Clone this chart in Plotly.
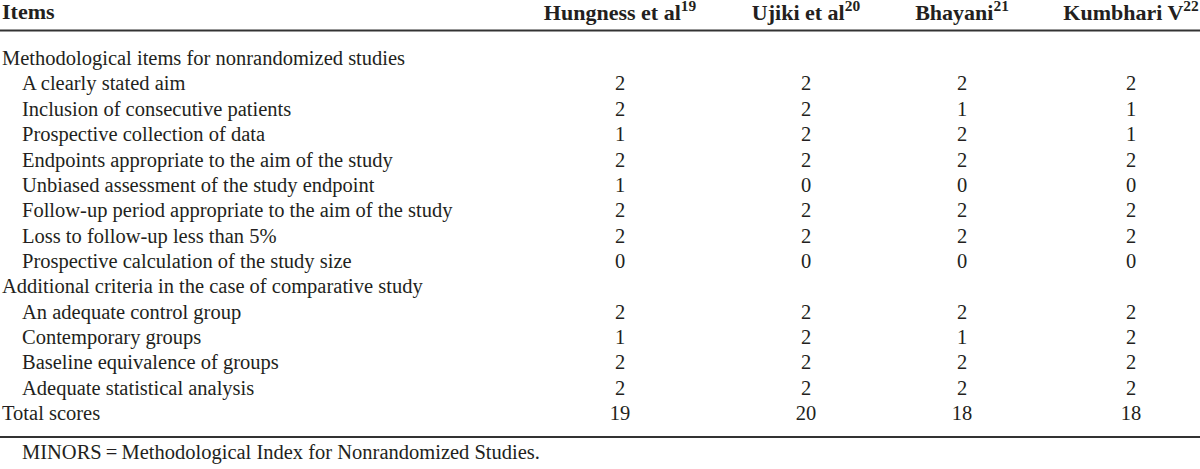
import plotly.graph_objects as go

# ---- data ----
item_labels = [
    "Methodological items for nonrandomized studies",
    "A clearly stated aim",
    "Inclusion of consecutive patients",
    "Prospective collection of data",
    "Endpoints appropriate to the aim of the study",
    "Unbiased assessment of the study endpoint",
    "Follow-up period appropriate to the aim of the study",
    "Loss to follow-up less than 5%",
    "Prospective calculation of the study size",
    "Additional criteria in the case of comparative study",
    "An adequate control group",
    "Contemporary groups",
    "Baseline equivalence of groups",
    "Adequate statistical analysis",
    "Total scores",
]
item_levels = [0, 1, 1, 1, 1, 1, 1, 1, 1, 0, 1, 1, 1, 1, 0]

study_headers = ["Hungness et al<sup>19</sup>", "Ujiki et al<sup>20</sup>",
                 "Bhayani<sup>21</sup>", "Kumbhari V<sup>22</sup>"]
hungness = [None, 2, 2, 1, 2, 1, 2, 2, 0, None, 2, 1, 2, 2, 19]
ujiki    = [None, 2, 2, 2, 2, 0, 2, 2, 0, None, 2, 2, 2, 2, 20]
bhayani  = [None, 2, 1, 2, 2, 0, 2, 2, 0, None, 2, 1, 2, 2, 18]
kumbhari = [None, 2, 1, 1, 2, 0, 2, 2, 0, None, 2, 2, 2, 2, 18]
study_scores = [hungness, ujiki, bhayani, kumbhari]

items_header = "Items"
footnote = "MINORS\u2009=\u2009Methodological Index for Nonrandomized Studies."

# ---- layout constants ----
W, H = 1200, 469
row0_px, row_step = 60.0, 25.36
col_centers = [620, 806, 962, 1131]
indent_x = [2, 22]
header_px, top_line_px, bottom_line_px, foot_px = 14.5, 30.5, 437, 454

def px_to_row(p):
    return (p - row0_px) / row_step

FONT = "Liberation Serif, Times New Roman, serif"
INK = "#231f20"
FS = 20.5
FS_HEAD = 22

rows = list(range(len(item_labels)))
fig = go.Figure()

# item labels
for lvl in (0, 1):
    fig.add_trace(go.Scatter(
        x=[indent_x[lvl] for r in rows if item_levels[r] == lvl],
        y=[r for r in rows if item_levels[r] == lvl],
        text=[item_labels[r] for r in rows if item_levels[r] == lvl],
        mode="text", textposition="middle right",
        textfont=dict(family=FONT, size=FS, color=INK),
        hoverinfo="skip", showlegend=False, cliponaxis=False))

# score columns
for ci, scores in enumerate(study_scores):
    fig.add_trace(go.Scatter(
        x=[col_centers[ci] for r in rows if scores[r] is not None],
        y=[r for r in rows if scores[r] is not None],
        text=[str(scores[r]) for r in rows if scores[r] is not None],
        mode="text", textposition="middle center",
        textfont=dict(family=FONT, size=FS, color=INK),
        hoverinfo="skip", showlegend=False, cliponaxis=False))

# header row
fig.add_trace(go.Scatter(
    x=[indent_x[0]], y=[px_to_row(header_px - 1.5)], text=["<b>" + items_header + "</b>"],
    mode="text", textposition="middle right",
    textfont=dict(family=FONT, size=FS_HEAD, color=INK),
    hoverinfo="skip", showlegend=False, cliponaxis=False))
fig.add_trace(go.Scatter(
    x=col_centers, y=[px_to_row(header_px)] * len(col_centers),
    text=["<b>" + h + "</b>" for h in study_headers],
    mode="text", textposition="middle center",
    textfont=dict(family=FONT, size=FS_HEAD, color=INK),
    hoverinfo="skip", showlegend=False, cliponaxis=False))

# footnote
fig.add_trace(go.Scatter(
    x=[indent_x[1]], y=[px_to_row(foot_px)], text=[footnote],
    mode="text", textposition="middle right",
    textfont=dict(family=FONT, size=FS, color=INK),
    hoverinfo="skip", showlegend=False, cliponaxis=False))

# rules
for p in (top_line_px, bottom_line_px):
    fig.add_shape(type="line", xref="x", yref="y", x0=0, x1=W,
                  y0=px_to_row(p), y1=px_to_row(p),
                  line=dict(color="#333333", width=2))

fig.update_layout(
    width=W, height=H, margin=dict(l=0, r=0, t=0, b=0),
    paper_bgcolor="white", plot_bgcolor="white",
    xaxis=dict(range=[0, W], visible=False, fixedrange=True),
    yaxis=dict(range=[px_to_row(H), px_to_row(0)], visible=False, fixedrange=True),
)
fig.write_html("out.html", config={"displayModeBar": False},
               post_script="document.body.style.margin='0';document.body.style.overflow='hidden';")
